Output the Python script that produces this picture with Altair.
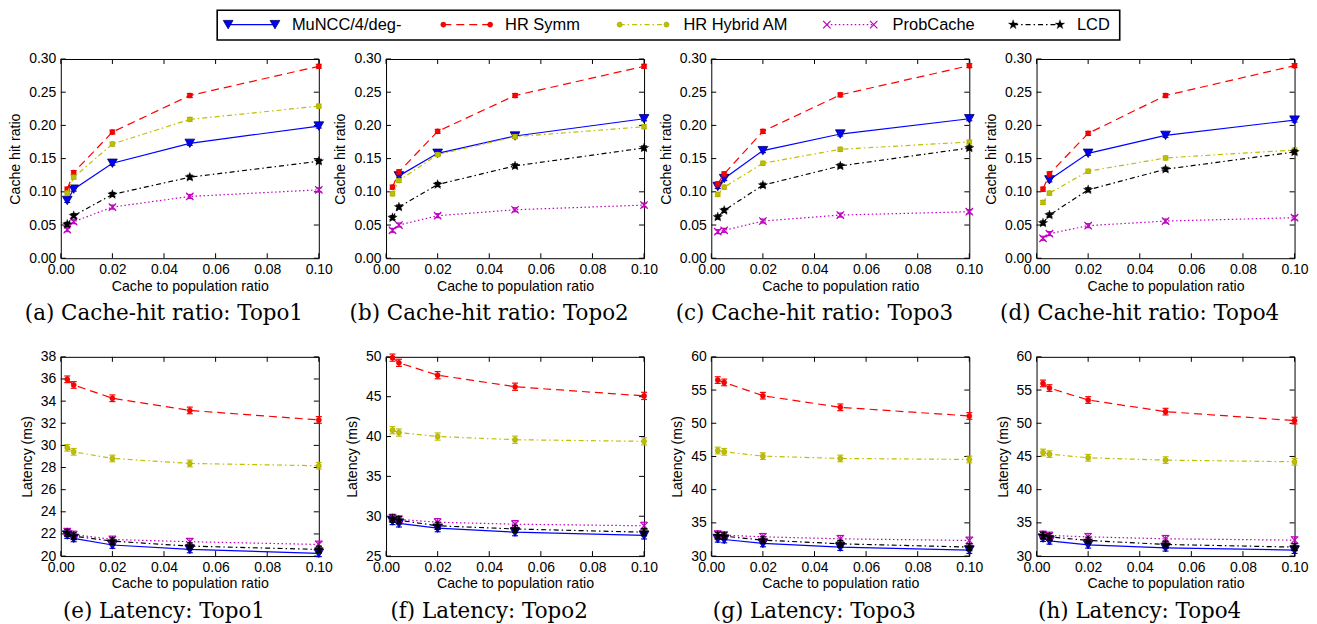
import altair as alt
import pandas as pd

# ---------------- data ----------------
X = [0.0025, 0.005, 0.02, 0.05, 0.1]
SERIES = ["MuNCC/4/deg-", "HR Symm", "HR Hybrid AM", "ProbCache", "LCD"]

HIT_TOPO1 = {
    "MuNCC/4/deg-": [0.087, 0.104, 0.143, 0.173, 0.199],
    "HR Symm": [0.104, 0.129, 0.190, 0.245, 0.289],
    "HR Hybrid AM": [0.098, 0.122, 0.172, 0.209, 0.229],
    "ProbCache": [0.043, 0.055, 0.077, 0.093, 0.103],
    "LCD": [0.051, 0.064, 0.096, 0.122, 0.146],
}
HIT_TOPO2 = {
    "MuNCC/4/deg-": [None, 0.124, 0.158, 0.184, 0.210],
    "HR Symm": [0.107, 0.130, 0.191, 0.245, 0.289],
    "HR Hybrid AM": [0.097, 0.117, 0.156, 0.183, 0.198],
    "ProbCache": [0.042, 0.050, 0.064, 0.073, 0.080],
    "LCD": [0.061, 0.077, 0.111, 0.139, 0.166],
}
HIT_TOPO3 = {
    "MuNCC/4/deg-": [0.108, 0.120, 0.162, 0.187, 0.210],
    "HR Symm": [0.112, 0.127, 0.191, 0.246, 0.290],
    "HR Hybrid AM": [0.096, 0.107, 0.143, 0.164, 0.175],
    "ProbCache": [0.040, 0.042, 0.056, 0.065, 0.070],
    "LCD": [0.062, 0.072, 0.110, 0.139, 0.166],
}
HIT_TOPO4 = {
    "MuNCC/4/deg-": [None, 0.118, 0.158, 0.185, 0.208],
    "HR Symm": [0.104, 0.127, 0.188, 0.245, 0.290],
    "HR Hybrid AM": [0.084, 0.098, 0.131, 0.151, 0.163],
    "ProbCache": [0.030, 0.037, 0.049, 0.056, 0.061],
    "LCD": [0.053, 0.065, 0.103, 0.134, 0.160],
}
LAT_TOPO1 = {
    "MuNCC/4/deg-": [21.9, 21.6, 21.0, 20.6, 20.25],
    "HR Symm": [35.97, 35.46, 34.26, 33.16, 32.3],
    "HR Hybrid AM": [29.78, 29.42, 28.82, 28.37, 28.16],
    "ProbCache": [22.2, 21.95, 21.5, 21.3, 21.05],
    "LCD": [22.1, 21.8, 21.35, 20.9, 20.6],
}
LAT_TOPO2 = {
    "MuNCC/4/deg-": [29.4, 29.1, 28.5, 28.0, 27.6],
    "HR Symm": [49.9, 49.25, 47.7, 46.25, 45.1],
    "HR Hybrid AM": [40.8, 40.5, 40.0, 39.6, 39.4],
    "ProbCache": [29.8, 29.6, 29.25, 29.0, 28.8],
    "LCD": [29.7, 29.5, 28.8, 28.4, 28.0],
}
LAT_TOPO3 = {
    "MuNCC/4/deg-": [32.6, 32.5, 31.9, 31.35, 30.9],
    "HR Symm": [56.5, 56.15, 54.15, 52.4, 51.1],
    "HR Hybrid AM": [45.9, 45.7, 45.05, 44.7, 44.55],
    "ProbCache": [33.3, 33.15, 32.9, 32.6, 32.35],
    "LCD": [33.1, 33.0, 32.4, 31.85, 31.35],
}
LAT_TOPO4 = {
    "MuNCC/4/deg-": [32.7, 32.3, 31.7, 31.25, 30.9],
    "HR Symm": [56.0, 55.3, 53.5, 51.75, 50.4],
    "HR Hybrid AM": [45.6, 45.35, 44.8, 44.45, 44.2],
    "ProbCache": [33.25, 33.1, 32.9, 32.6, 32.4],
    "LCD": [33.1, 32.9, 32.35, 31.75, 31.35],
}

X_TICKS = [0.0, 0.02, 0.04, 0.06, 0.08, 0.10]
HIT_TICKS = [0.0, 0.05, 0.10, 0.15, 0.20, 0.25, 0.30]
LAT1_TICKS = [20, 22, 24, 26, 28, 30, 32, 34, 36, 38]
LAT2_TICKS = [25, 30, 35, 40, 45, 50]
LAT34_TICKS = [30, 35, 40, 45, 50, 55, 60]

# half-height of the error bars, read per panel
HIT_ERR = [0.003, 0.003, 0.003, 0.003]
LAT_ERR = [0.3, 0.45, 0.5, 0.5]

HIT_CAPTIONS = ["(a) Cache-hit ratio: Topo1", "(b) Cache-hit ratio: Topo2",
                "(c) Cache-hit ratio: Topo3", "(d) Cache-hit ratio: Topo4"]
LAT_CAPTIONS = ["(e) Latency: Topo1", "(f) Latency: Topo2",
                "(g) Latency: Topo3", "(h) Latency: Topo4"]

# ---------------- styles ----------------
W, H = 259, 200
TICK = 5
FONT = "Liberation Sans"
SERIF = "DejaVu Serif"

STAR = ("M0,-1L0.235,-0.324L0.951,-0.309L0.38,0.124L0.588,0.809L0,0.4"
        "L-0.588,0.809L-0.38,0.124L-0.951,-0.309L-0.235,-0.324Z")
XMARK = "M-1,-1L1,1M-1,1L1,-1"

STYLE = {
    "MuNCC/4/deg-": dict(color="#0000ff", dash=None,
                         pt=dict(shape="triangle-down", size=95, filled=True,
                                 fill="#0000ff", stroke="#000060", strokeWidth=0.8, opacity=1)),
    "HR Symm": dict(color="#ff0000", dash=[8, 5],
                    pt=dict(shape="circle", size=26, filled=True, fill="#ff0000",
                            stroke="#cc0000", strokeWidth=0.5, opacity=1)),
    "HR Hybrid AM": dict(color="#bfbf00", dash=[5, 3, 1.5, 3],
                         pt=dict(shape="circle", size=26, filled=True, fill="#bfbf00",
                                 stroke="#9a9a00", strokeWidth=0.5, opacity=1)),
    "ProbCache": dict(color="#bf00bf", dash=[1.5, 2.5],
                      pt=dict(shape=XMARK, size=55, filled=False, stroke="#bf00bf",
                              strokeWidth=1.2, opacity=1)),
    "LCD": dict(color="#000000", dash=[5, 3, 1.5, 3],
                pt=dict(shape=STAR, size=100, filled=True, fill="#000000",
                        stroke="#000000", strokeWidth=0.3, opacity=1)),
}


def line_kw(s):
    kw = dict(color=STYLE[s]["color"], strokeWidth=1.2)
    if STYLE[s]["dash"] is not None:
        kw["strokeDash"] = STYLE[s]["dash"]
    return kw


def panel(data, yticks, yfmt, ytitle, caption, err):
    xs = alt.Scale(domain=[X_TICKS[0], X_TICKS[-1]], nice=False, zero=False)
    ys = alt.Scale(domain=[yticks[0], yticks[-1]], nice=False, zero=False)
    xax = alt.Axis(values=X_TICKS, format=".2f", title="Cache to population ratio",
                   ticks=False, domain=False, grid=False, labelFlush=False,
                   labelOverlap=False, labelPadding=4, titlePadding=3)
    yax = alt.Axis(values=yticks, format=yfmt, title=ytitle,
                   ticks=False, domain=False, grid=False, labelFlush=False,
                   labelOverlap=False, labelPadding=5, titlePadding=6)

    def ex(f):
        return alt.X(f"{f}:Q", scale=xs, axis=xax)

    def ey(f):
        return alt.Y(f"{f}:Q", scale=ys, axis=yax)

    layers = []
    xt = pd.DataFrame({"v": X_TICKS})
    yt = pd.DataFrame({"v": yticks})
    layers.append(alt.Chart(yt).mark_rule(color="black", strokeWidth=1).encode(
        y=ey("v"), x=alt.value(0), x2=alt.value(TICK)))
    layers.append(alt.Chart(yt).mark_rule(color="black", strokeWidth=1).encode(
        y=ey("v"), x=alt.value(W - TICK), x2=alt.value(W)))
    layers.append(alt.Chart(xt).mark_rule(color="black", strokeWidth=1).encode(
        x=ex("v"), y=alt.value(H - TICK), y2=alt.value(H)))
    layers.append(alt.Chart(xt).mark_rule(color="black", strokeWidth=1).encode(
        x=ex("v"), y=alt.value(0), y2=alt.value(TICK)))

    for s in SERIES:
        rows = [{"x": x, "y": v, "lo": v - err, "hi": v + err}
                for x, v in zip(X, data[s]) if v is not None]
        df = pd.DataFrame(rows)
        c = STYLE[s]["color"]
        b = alt.Chart(df)
        layers.append(b.mark_line(**line_kw(s)).encode(x=ex("x"), y=ey("y")))
        layers.append(b.mark_rule(color=c, strokeWidth=1).encode(
            x=ex("x"), y=ey("lo"), y2="hi:Q"))
        layers.append(b.mark_tick(color=c, orient="horizontal", size=6, thickness=1.2,
                                  opacity=1).encode(x=ex("x"), y=ey("lo")))
        layers.append(b.mark_tick(color=c, orient="horizontal", size=6, thickness=1.2,
                                  opacity=1).encode(x=ex("x"), y=ey("hi")))
        layers.append(b.mark_point(**STYLE[s]["pt"]).encode(x=ex("x"), y=ey("y")))

    return alt.layer(*layers).properties(
        width=W, height=H,
        title=alt.TitleParams(caption, orient="bottom", anchor="middle", font=SERIF,
                              fontSize=21.5, fontWeight="normal", color="black",
                              dx=-26, offset=10))


panels = [panel(d, HIT_TICKS, ".2f", "Cache hit ratio", cap, e)
          for d, cap, e in zip([HIT_TOPO1, HIT_TOPO2, HIT_TOPO3, HIT_TOPO4], HIT_CAPTIONS, HIT_ERR)]
panels += [panel(d, t, "d", "Latency (ms)", cap, e)
           for d, t, cap, e in zip([LAT_TOPO1, LAT_TOPO2, LAT_TOPO3, LAT_TOPO4],
                                   [LAT1_TICKS, LAT2_TICKS, LAT34_TICKS, LAT34_TICKS],
                                   LAT_CAPTIONS, LAT_ERR)]
grid = alt.concat(*panels, columns=4, spacing={"row": 99, "column": 67.5}, bounds="flush")

# ---------------- legend ----------------
LEG_W, LEG_H = 1239, 30
LEG_Y = 14.5
LEG_BOX = (157, 1063)
LEG_HANDLE_X = [168, 384, 561, 769, 956]
LEG_HANDLE_LEN = 47
LEG_TEXT_X = [232, 446, 625, 835, 1020]

leg_layers = [alt.Chart(pd.DataFrame({"k": [0]})).mark_rect(
    fill="white", stroke="black", strokeWidth=1.6).encode(
    x=alt.value(LEG_BOX[0]), x2=alt.value(LEG_BOX[1]), y=alt.value(0), y2=alt.value(LEG_H))]
for s, hx, tx in zip(SERIES, LEG_HANDLE_X, LEG_TEXT_X):
    b = alt.Chart(pd.DataFrame({"series": [s]}))
    leg_layers.append(b.mark_rule(**line_kw(s)).encode(
        x=alt.value(hx), x2=alt.value(hx + LEG_HANDLE_LEN), y=alt.value(LEG_Y)))
    leg_layers.append(b.mark_point(**STYLE[s]["pt"]).encode(x=alt.value(hx), y=alt.value(LEG_Y)))
    leg_layers.append(b.mark_point(**STYLE[s]["pt"]).encode(
        x=alt.value(hx + LEG_HANDLE_LEN), y=alt.value(LEG_Y)))
    leg_layers.append(b.mark_text(align="left", baseline="middle", font=FONT, fontSize=16.5,
                                  color="black").encode(
        x=alt.value(tx), y=alt.value(LEG_Y), text="series:N"))
legend = alt.layer(*leg_layers).properties(width=LEG_W, height=LEG_H,
                                           view=alt.ViewBackground(stroke=None))

chart = alt.vconcat(legend, grid, spacing=19, bounds="flush").properties(padding=0)
chart = chart.configure_view(stroke="black", strokeWidth=1).configure_axis(
    labelFont=FONT, titleFont=FONT, labelFontSize=14, titleFontSize=14.2,
    labelColor="black", titleColor="black", titleFontWeight="normal")

chart.save("out.html", embed_options={"renderer": "svg", "actions": False})
